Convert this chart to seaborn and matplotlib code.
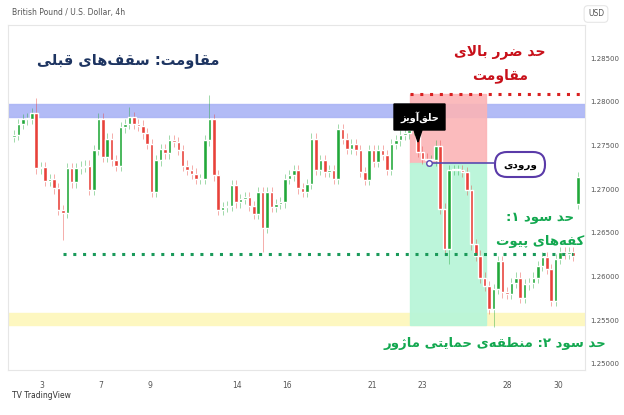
import matplotlib
matplotlib.use("Agg")
import matplotlib.pyplot as plt
import seaborn as sns
import numpy as np
import pandas as pd
from matplotlib.patches import Rectangle, FancyBboxPatch, Polygon

sns.set_style("white")
plt.rcParams['font.family'] = ['DejaVu Sans']

closes = [1.2762,1.2775,1.2780,1.2781,1.2787,1.2724,1.2725,1.2710,1.2712,1.2701,1.2676,1.2673,1.2724,1.2708,1.2724,
          1.2726,1.2727,1.2699,1.2745,1.2781,1.2737,1.2758,1.2733,1.2727,1.2771,1.2775,1.2783,1.2775,1.2773,1.2764,
          1.2752,1.2697,1.2733,1.2746,1.2741,1.2756,1.2754,1.2745,1.2727,1.2722,1.2718,1.2712,1.2712,1.2756,1.2780,
          1.2716,1.2676,1.2680,1.2681,1.2705,1.2685,1.2689,1.2691,1.2681,1.2672,1.2697,1.2656,1.2697,1.2680,1.2683,
          1.2685,1.2712,1.2716,1.2722,1.2701,1.2697,1.2706,1.2758,1.2722,1.2733,
          1.2720,1.2722,1.2712,1.2769,1.2758,1.2746,1.2752,1.2745,1.2720,1.2711,1.2745,1.2731,1.2745,1.2739,1.2722,
          1.2752,1.2756,1.2762,1.2764,1.2768,1.2769,1.2743,1.2735,1.2733,1.2733,1.2750,1.2678,1.2632,1.2722,1.2722,
          1.2722,1.2720,1.2699,1.2637,1.2624,1.2599,1.2589,1.2563,1.2586,1.2618,1.2582,1.2580,1.2593,1.2599,1.2576,
          1.2591,1.2593,1.2599,1.2612,1.2622,1.2609,1.2572,1.2620,1.2628,1.2626,1.2628,1.2624,
          1.2714]
first_open = 1.2760
last_open = 1.2683
opens = [first_open] + closes[:-1]
opens[-1] = last_open
wick = [0.0006] * len(closes)
wick_hi_extra = {5: 0.0012, 44: 0.0022, 26: 0.0005}
wick_lo_extra = {11: 0.0025, 56: 0.0022, 98: 0.0012, 108: 0.0015}

tick_pos = [6.3, 19.6, 30.6, 50.2, 61.5, 80.6, 91.9, 111.0, 122.5]
tick_labels = ["3", "7", "9", "14", "16", "21", "23", "28", "30"]
price_ticks = [1.25, 1.255, 1.26, 1.265, 1.27, 1.275, 1.28, 1.285]

# ---------- minimal Persian shaping ----------
FORMS = {
 'ا':('\uFE8D','\uFE8E',None,None),'آ':('\uFE81','\uFE82',None,None),
 'ب':('\uFE8F','\uFE90','\uFE91','\uFE92'),'پ':('\uFB56','\uFB57','\uFB58','\uFB59'),
 'ت':('\uFE95','\uFE96','\uFE97','\uFE98'),'ح':('\uFEA1','\uFEA2','\uFEA3','\uFEA4'),
 'د':('\uFEA9','\uFEAA',None,None),'ر':('\uFEAD','\uFEAE',None,None),
 'ز':('\uFEAF','\uFEB0',None,None),'ژ':('\uFB8A','\uFB8B',None,None),
 'س':('\uFEB1','\uFEB2','\uFEB3','\uFEB4'),'ض':('\uFEBD','\uFEBE','\uFEBF','\uFEC0'),
 'ط':('\uFEC1','\uFEC2','\uFEC3','\uFEC4'),'ف':('\uFED1','\uFED2','\uFED3','\uFED4'),
 'ق':('\uFED5','\uFED6','\uFED7','\uFED8'),'ک':('\uFB8E','\uFB8F','\uFB90','\uFB91'),
 'ل':('\uFEDD','\uFEDE','\uFEDF','\uFEE0'),'م':('\uFEE1','\uFEE2','\uFEE3','\uFEE4'),
 'ن':('\uFEE5','\uFEE6','\uFEE7','\uFEE8'),'ه':('\uFEE9','\uFEEA','\uFEEB','\uFEEC'),
 'و':('\uFEED','\uFEEE',None,None),'ی':('\uFBFC','\uFBFD','\uFBFE','\uFBFF'),
}
def shape(s):
    chars = list(s)
    out = []
    i = 0
    def joins_fwd(c):
        return c in FORMS and FORMS[c][2] is not None
    while i < len(chars):
        c = chars[i]
        prev = chars[i-1] if i > 0 else None
        pj = prev is not None and joins_fwd(prev)
        if c == 'ل' and i+1 < len(chars) and chars[i+1] in ('ا', 'آ'):
            out.append('\uFEFC' if pj else '\uFEFB')
            i += 2
            continue
        if c not in FORMS:
            out.append(c if c != '\u200c' else '')
            i += 1
            continue
        nxt = chars[i+1] if i+1 < len(chars) else None
        nj = nxt is not None and nxt in FORMS and joins_fwd(c)
        iso, fin, ini, med = FORMS[c]
        if pj and nj: f = med
        elif pj: f = fin
        elif nj: f = ini
        else: f = iso
        out.append(f)
        i += 1
    return ''.join(out[::-1])

fig = plt.figure(figsize=(6.24, 4.15), dpi=100)
W, H = 624, 415
ax = fig.add_axes([8/W, 1-370/H, (585-8)/W, (370-25)/H])
n = len(closes)
x = np.arange(n)
ax.set_xlim(-1.35, 128.6)
ax.set_ylim(1.24931, 1.28881)

# zones
ax.axhspan(1.2783, 1.2798, color='#aab4f5', alpha=0.9, zorder=0)
ax.axhspan(1.2545, 1.2558, color='#fdf7c0', zorder=0)
ax.add_patch(Rectangle((89.1, 1.2730), 17.3, 1.2809-1.2730, color='#fbb4b6', zorder=1, alpha=0.9))
ax.add_patch(Rectangle((89.1, 1.2545), 17.3, 1.2730-1.2545, color='#b9f5d8', zorder=1, alpha=0.95))

df = pd.DataFrame({'x': x, 'o': opens, 'c': closes})
df['hi'] = np.maximum(df.o, df.c) + np.array(wick) + np.array([wick_hi_extra.get(i, 0) for i in range(n)])
df['lo'] = np.minimum(df.o, df.c) - np.array(wick) - np.array([wick_lo_extra.get(i, 0) for i in range(n)])
up = df.c >= df.o
col = np.where(up, '#22a83a', '#e8413a')
ax.vlines(df.x, df.lo, df.hi, colors=col, linewidth=0.6, alpha=0.5, zorder=2)
body = np.abs(df.c - df.o).clip(lower=0.00012)
ax.bar(df.x, body, bottom=np.minimum(df.o, df.c), width=0.8, color=col, zorder=3)

# lines
ax.hlines(1.2626, 11, 126, colors='#1a9a5a', linestyles=(0, (1, 2.2)), linewidth=2.2, zorder=4)
ax.hlines(1.2809, 89.1, 128, colors='#d82020', linestyles=(0, (1, 2.2)), linewidth=2.2, zorder=4)
ax.hlines(1.2730, 93.5, 108, colors='#5a4ab0', linewidth=1.2, zorder=5)
ax.plot([93.5], [1.2730], marker='o', ms=4, mfc='white', mec='#5a4ab0', zorder=6)

ax.set_xticks(tick_pos)
ax.set_xticklabels(tick_labels)
ax.set_yticks(price_ticks)
ax.set_yticklabels([f"{p:.5f}" for p in price_ticks])
ax.yaxis.tick_right()
ax.tick_params(axis='y', labelsize=5, colors='#555555', length=0, pad=4)
ax.tick_params(axis='x', labelsize=5.5, colors='#555555', length=0, pad=8)
for s in ax.spines.values():
    s.set_color('#e6e6e6')
    s.set_linewidth(0.8)

# texts
fig.text(12/W, 1-13/H, "British Pound / U.S. Dollar, 4h", fontsize=5.5, color='#555555', va='center')
fig.text(596/W, 1-14/H, "USD", fontsize=5.5, color='#555555', va='center', ha='center',
         bbox=dict(boxstyle='round,pad=0.5', fc='white', ec='#e6e6e6', lw=0.8))
fig.text(12/W, 1-395/H, "TV TradingView", fontsize=5.5, color='#333333', va='center')

fig.text(128/W, 1-60/H, shape("مقاومت: سقف‌های قبلی"), fontsize=10.5, weight='bold', color='#1d3461', ha='center', va='center')
fig.text(500/W, 1-52/H, shape("حد ضرر بالای"), fontsize=10, weight='bold', color='#c8101a', ha='center', va='center')
fig.text(500/W, 1-76/H, shape("مقاومت"), fontsize=10, weight='bold', color='#c8101a', ha='center', va='center')
fig.text(540/W, 1-217/H, shape("حد سود ۱:"), fontsize=9.5, weight='bold', color='#13a850', ha='center', va='center')
fig.text(540/W, 1-241/H, shape("کفه‌های پیوت"), fontsize=9.5, weight='bold', color='#13a850', ha='center', va='center')
fig.text(495/W, 1-343/H, shape("حد سود ۲: منطقه‌ی حمایتی ماژور"), fontsize=9.5, weight='bold', color='#13a850', ha='center', va='center')

# hanging man callout
fax = fig.add_axes([0, 0, 1, 1], facecolor='none')
fax.set_xlim(0, W); fax.set_ylim(H, 0); fax.axis('off')
fax.add_patch(Polygon([[394, 104], [445, 104], [445, 130], [422, 130], [418, 142], [414, 130], [394, 130]],
                      closed=True, fc='black', ec='black'))
fax.text(419.5, 117, shape("حلق‌آویز"), color='white', fontsize=7, weight='bold', ha='center', va='center')
fax.add_patch(FancyBboxPatch((495, 152), 50, 25, boxstyle='round,pad=0,rounding_size=12',
                             fc='white', ec='#5a3aa8', lw=1.5))
fax.text(520, 164.5, shape("ورودی"), color='black', fontsize=7.5, weight='bold', ha='center', va='center')

fig.savefig("out.png", dpi=100)
